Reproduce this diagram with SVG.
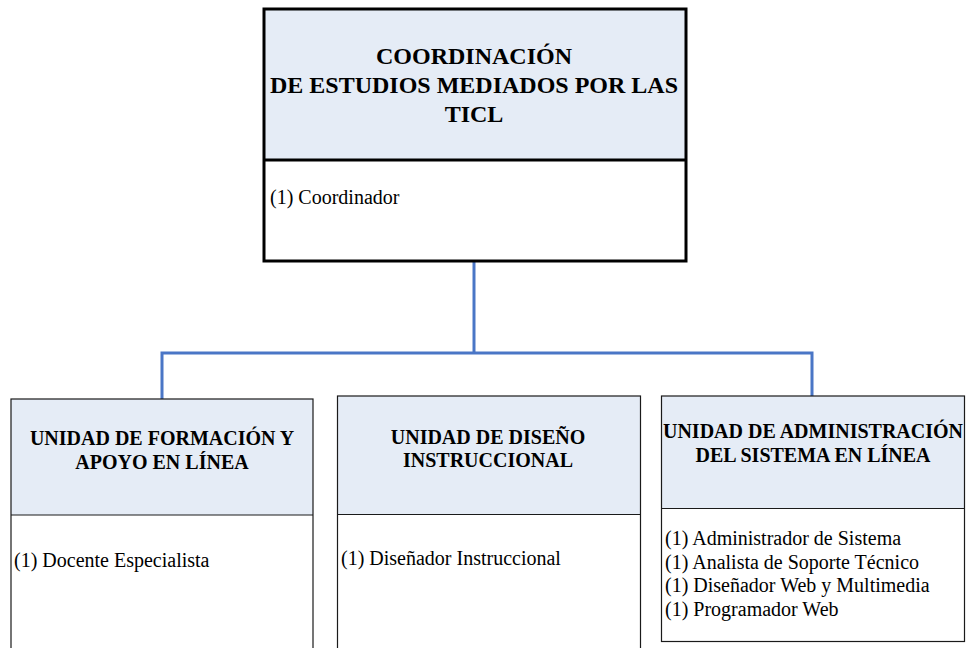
<svg xmlns="http://www.w3.org/2000/svg" width="968" height="648" viewBox="0 0 968 648">
<style>
.hdr{fill:#E5ECF6}
.body{fill:#FFFFFF}
.thick{fill:none;stroke:#000;stroke-width:3}
.thin{fill:none;stroke:#1a1a1a;stroke-width:1.2}
.title{font-family:"Liberation Serif","Times New Roman",serif;font-weight:bold;fill:#000;text-anchor:middle}
.t1{font-size:24px}
.t2{font-size:20px}
.txt{font-family:"Liberation Serif","Times New Roman",serif;font-size:20px;fill:#000}
.conn{fill:none;stroke:#4A76C6;stroke-width:3}
</style>
<rect width="968" height="648" fill="#FFFFFF"/>
<g id="connectors">
<path class="conn" d="M474,261 V353"/>
<path class="conn" d="M162,399 V353 H812 V396"/>
</g>
<g id="coordinacion">
<rect class="hdr" x="264" y="9" width="422" height="151"/>
<rect class="body" x="264" y="160" width="422" height="101"/>
<rect class="thick" x="264" y="9" width="422" height="252"/>
<line class="thick" x1="264" y1="160" x2="686" y2="160"/>
<text class="title t1" x="474" y="64">COORDINACIÓN</text>
<text class="title t1" x="474" y="93">DE ESTUDIOS MEDIADOS POR LAS</text>
<text class="title t1" x="474" y="121.5">TICL</text>
<text class="txt" x="270" y="204">(1) Coordinador</text>
</g>
<g id="unidad-formacion">
<rect class="hdr" x="11" y="399" width="302" height="116"/>
<rect class="body" x="11" y="515" width="302" height="150"/>
<rect class="thin" x="11" y="399" width="302" height="266"/>
<line class="thin" x1="11" y1="515" x2="313" y2="515"/>
<text class="title t2" x="162" y="445">UNIDAD DE FORMACIÓN Y</text>
<text class="title t2" x="162" y="468.5">APOYO EN LÍNEA</text>
<text class="txt" x="14" y="566.5">(1) Docente Especialista</text>
</g>
<g id="unidad-diseno">
<rect class="hdr" x="337.5" y="396" width="303" height="118.5"/>
<rect class="body" x="337.5" y="514.5" width="303" height="150"/>
<rect class="thin" x="337.5" y="396" width="303" height="268.5"/>
<line class="thin" x1="337.5" y1="514.5" x2="640.5" y2="514.5"/>
<text class="title t2" x="488" y="444">UNIDAD DE DISEÑO</text>
<text class="title t2" x="488" y="467">INSTRUCCIONAL</text>
<text class="txt" x="341" y="565">(1) Diseñador Instruccional</text>
</g>
<g id="unidad-administracion">
<rect class="hdr" x="661.5" y="396" width="303" height="112.5"/>
<rect class="body" x="661.5" y="508.5" width="303" height="133"/>
<rect class="thin" x="661.5" y="396" width="303" height="245.5"/>
<line class="thin" x1="661.5" y1="508.5" x2="964.5" y2="508.5"/>
<text class="title t2" x="813" y="437.5">UNIDAD DE ADMINISTRACIÓN</text>
<text class="title t2" x="813" y="461.5">DEL SISTEMA EN LÍNEA</text>
<text class="txt" x="665" y="545">(1) Administrador de Sistema</text>
<text class="txt" x="665" y="568.5">(1) Analista de Soporte Técnico</text>
<text class="txt" x="665" y="592">(1) Diseñador Web y Multimedia</text>
<text class="txt" x="665" y="615.5">(1) Programador Web</text>
</g>
</svg>
